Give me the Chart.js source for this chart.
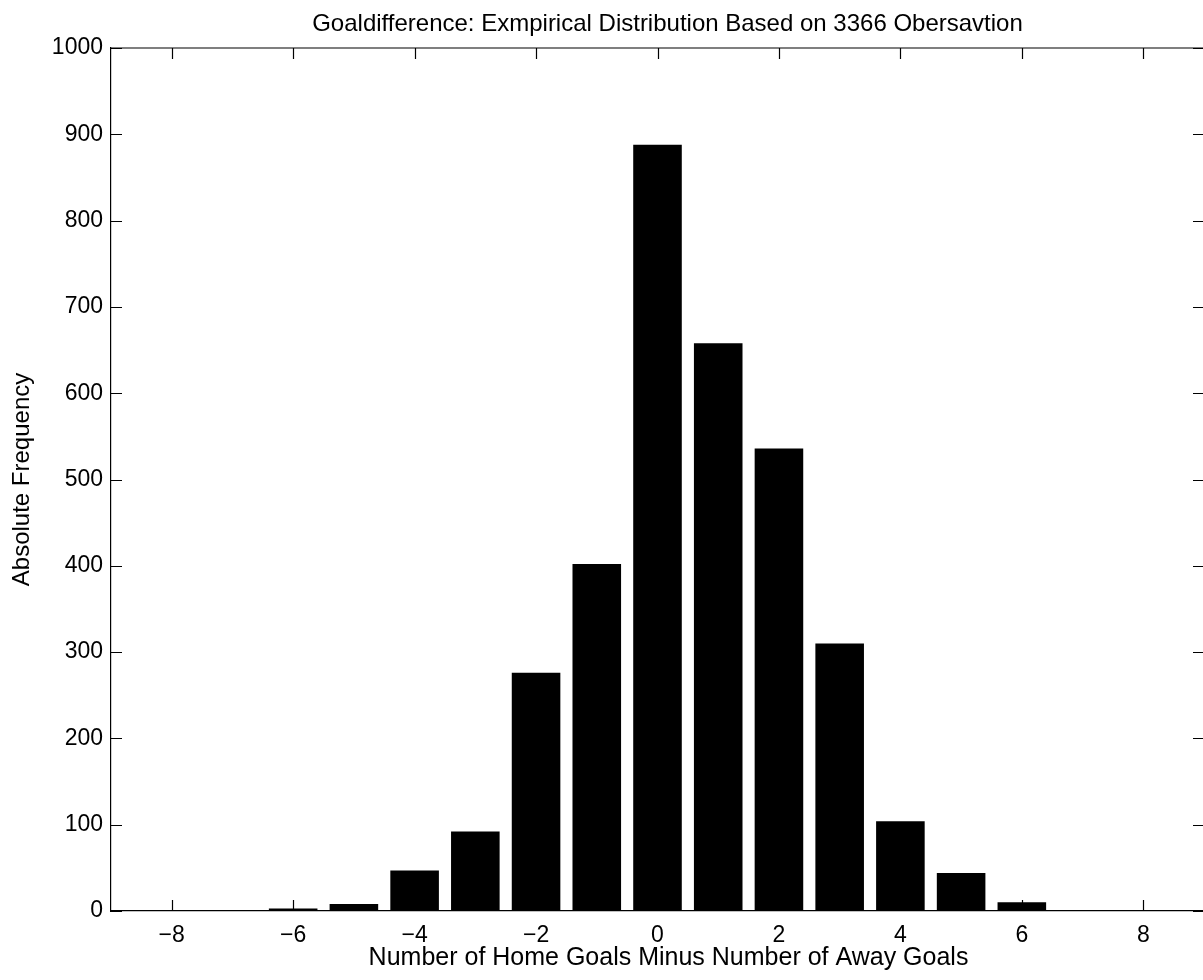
<!DOCTYPE html>
<html>
<head>
<meta charset="utf-8">
<script src="https://cdn.jsdelivr.net/npm/chart.js@4.4.1/dist/chart.umd.min.js"></script>
<style>
html,body{margin:0;padding:0;background:#fff;overflow:hidden;}
#wrap{width:1215px;height:980px;}
</style>
</head>
<body>
<div id="wrap"><canvas id="c" width="1215" height="980"></canvas></div>
<script>
// Data
const goalDiff = [-9,-8,-7,-6,-5,-4,-3,-2,-1,0,1,2,3,4,5,6,7,8,9];
const frequency = [0,0,0,3,8,47,92,276,402,888,658,536,310,104,44,10,0,0,0];
const yTicks = [0,100,200,300,400,500,600,700,800,900,1000];
const xTickValues = [-8,-6,-4,-2,0,2,4,6,8];
const chartTitle = 'Goaldifference: Exmpirical Distribution Based on 3366 Obersavtion';
const xTitle = 'Number of Home Goals Minus Number of Away Goals';
const yTitle = 'Absolute Frequency';

const FONT = 'Liberation Sans, Arial, Helvetica, sans-serif';
const fmt = v => (v < 0 ? '\u2212' + Math.abs(v) : String(v));

const innerTicks = {
  id: 'innerTicks',
  afterDraw(chart) {
    const {ctx, chartArea: a, scales: {x, y}} = chart;
    const L = 11;
    ctx.save();
    ctx.strokeStyle = '#000';
    ctx.lineWidth = 1.2;
    ctx.beginPath();
    ctx.moveTo(a.left, a.top); ctx.lineTo(a.right, a.top); ctx.lineTo(a.right, a.bottom);
    yTicks.forEach(v => {
      const py = Math.round(y.getPixelForValue(v)) + 0.5;
      ctx.moveTo(a.left, py); ctx.lineTo(a.left + L, py);
      ctx.moveTo(a.right, py); ctx.lineTo(a.right - L, py);
    });
    xTickValues.forEach(v => {
      const idx = goalDiff.indexOf(v);
      const px = Math.round(x.getPixelForValue(idx)) + 0.5;
      ctx.moveTo(px, a.bottom); ctx.lineTo(px, a.bottom - L);
      ctx.moveTo(px, a.top); ctx.lineTo(px, a.top + L);
    });
    ctx.stroke();
    // titles (centred a little right of the plot centre, as in the reference)
    const cx = (a.left + a.right) / 2 + 10;
    ctx.fillStyle = '#000';
    ctx.textAlign = 'center';
    ctx.textBaseline = 'middle';
    ctx.font = '24px ' + FONT;
    ctx.fillText(chartTitle, cx, 24);
    ctx.font = '25px ' + FONT;
    ctx.fillText(xTitle, cx + 1, 958);
    ctx.restore();
  }
};

new Chart(document.getElementById('c'), {
  type: 'bar',
  data: {
    labels: goalDiff.map(String),
    datasets: [{
      data: frequency,
      backgroundColor: '#000',
      borderColor: '#333',
      borderWidth: 0,
      categoryPercentage: 1.0,
      barPercentage: 0.8
    }]
  },
  options: {
    responsive: false,
    devicePixelRatio: 1,
    animation: false,
    layout: {padding: {left: 0, right: 10, top: 48, bottom: 0}},
    plugins: {
      legend: {display: false},
      tooltip: {enabled: false},
      title: {display: false}
    },
    scales: {
      x: {
        type: 'category',
        offset: false,
        grid: {display: false, drawTicks: false},
        border: {display: true, color: '#000', width: 1.2},
        afterFit(s) { s.height = 69; },
        ticks: {
          autoSkip: false,
          maxRotation: 0,
          color: '#000',
          padding: 11,
          font: {family: FONT, size: 23},
          callback: (val, idx) => xTickValues.includes(goalDiff[idx]) ? fmt(goalDiff[idx]) : ''
        },
        title: {display: false}
      },
      y: {
        min: 0,
        max: 1000,
        grid: {display: false, drawTicks: false},
        border: {display: true, color: '#000', width: 1.2},
        afterFit(s) { s.width = 111; },
        afterBuildTicks(s) { s.ticks = yTicks.map(v => ({value: v})); },
        ticks: {
          color: '#000',
          padding: 8,
          font: {family: FONT, size: 23},
          callback: v => fmt(v)
        },
        title: {
          display: true,
          text: yTitle,
          color: '#000',
          font: {family: FONT, size: 24, lineHeight: 1.2},
          padding: {top: 7.6, bottom: 0}
        }
      }
    }
  },
  plugins: [innerTicks]
});
</script>
</body>
</html>
